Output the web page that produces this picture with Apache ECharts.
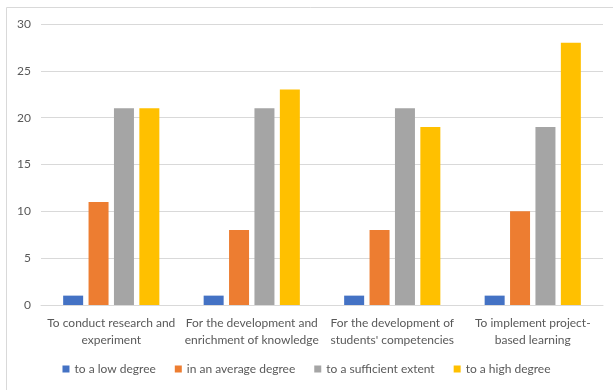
<!DOCTYPE html>
<html>
<head>
<meta charset="utf-8">
<script src="https://cdn.jsdelivr.net/npm/echarts@6/dist/echarts.min.js"></script>
<style>
  html, body { margin: 0; padding: 0; background: #fff; }
  #chart { width: 613px; height: 390px; }
</style>
</head>
<body>
<div id="chart"></div>
<script>
// Purposes of use (two-line labels under each group)
const categories = [
  'To conduct research and\nexperiment',
  'For the development and\nenrichment of knowledge',
  'For the development of\nstudents\' competencies',
  'To implement project-\nbased learning'
];

// Responses per degree
const lowDegree = [1, 1, 1, 1];
const averageDegree = [11, 8, 8, 10];
const sufficientExtent = [21, 21, 21, 19];
const highDegree = [21, 23, 19, 28];

const seriesNames = ['to a low degree', 'in an average degree', 'to a sufficient extent', 'to a high degree'];
const seriesColors = ['#4472C4', '#ED7D31', '#A5A5A5', '#FFC000'];
const seriesData = [lowDegree, averageDegree, sufficientExtent, highDegree];

const textColor = '#595959';
const fontFamily = 'Lato, "Open Sans", sans-serif';

const chart = echarts.init(document.getElementById('chart'));
chart.setOption({
  animation: false,
  textStyle: { fontFamily: fontFamily },
  graphic: [{
    type: 'rect',
    shape: { x: 6.5, y: 7.5, width: 700, height: 500 },
    style: { fill: 'none', stroke: '#D9D9D9', lineWidth: 1 },
    silent: true
  }],
  grid: { left: 41, right: 10, top: 24, bottom: 85, containLabel: false },
  legend: {
    bottom: 10,
    left: 'center',
    icon: 'rect',
    itemWidth: 7,
    itemHeight: 7,
    itemGap: 19,
    textStyle: { color: textColor, fontSize: 12, fontFamily: fontFamily },
    data: seriesNames
  },
  xAxis: {
    type: 'category',
    data: categories,
    axisTick: { show: false },
    axisLine: { lineStyle: { color: '#D9D9D9' } },
    axisLabel: {
      color: textColor,
      fontSize: 12,
      lineHeight: 17,
      margin: 10,
      interval: 0,
      fontFamily: fontFamily
    }
  },
  yAxis: {
    type: 'value',
    min: 0,
    max: 30,
    interval: 5,
    axisLine: { show: false },
    axisTick: { show: false },
    axisLabel: { color: textColor, fontSize: 12, margin: 10, fontFamily: fontFamily },
    splitLine: { lineStyle: { color: '#D9D9D9' } }
  },
  series: seriesNames.map((name, i) => ({
    name: name,
    type: 'bar',
    data: seriesData[i],
    barWidth: 20,
    barGap: '27%',
    itemStyle: { color: seriesColors[i] }
  }))
});
</script>
</body>
</html>
